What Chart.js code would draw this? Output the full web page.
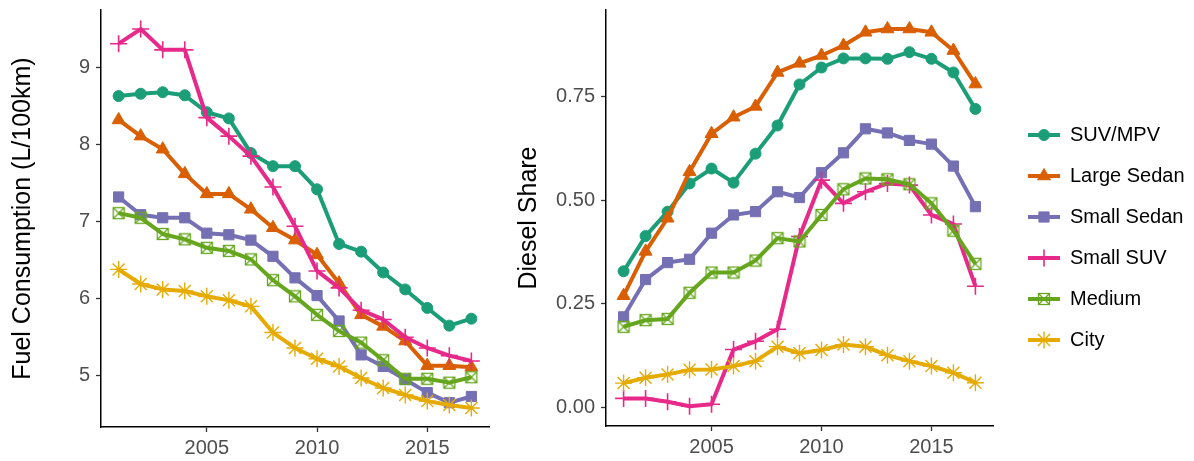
<!DOCTYPE html>
<html>
<head>
<meta charset="utf-8">
<script src="https://cdn.jsdelivr.net/npm/chart.js@4/dist/chart.umd.min.js"></script>
<style>
  html, body { margin: 0; padding: 0; background: #ffffff; }
  #wrap { position: relative; width: 1194px; height: 461px; overflow: hidden; }
  #fuel { position: absolute; left: 0; top: 0; }
  #diesel { position: absolute; left: 500px; top: 0; }
</style>
</head>
<body>
<div id="wrap">
  <canvas id="fuel" width="500" height="461"></canvas>
  <canvas id="diesel" width="694" height="461"></canvas>
</div>
<script>
// ---- data ----
const years = [2001, 2002, 2003, 2004, 2005, 2006, 2007, 2008, 2009, 2010, 2011, 2012, 2013, 2014, 2015, 2016, 2017];
const categories = ['SUV/MPV', 'Large Sedan', 'Small Sedan', 'Small SUV', 'Medium', 'City'];

// Fuel consumption, L/100km
const fuelSuvMpv      = [8.63, 8.66, 8.68, 8.64, 8.42, 8.34, 7.89, 7.72, 7.72, 7.42, 6.71, 6.61, 6.34, 6.12, 5.88, 5.65, 5.74];
const fuelLargeSedan  = [8.32, 8.11, 7.94, 7.62, 7.36, 7.36, 7.16, 6.92, 6.76, 6.57, 6.20, 5.79, 5.64, 5.45, 5.13, 5.13, 5.11];
const fuelSmallSedan  = [7.32, 7.09, 7.05, 7.05, 6.85, 6.83, 6.76, 6.55, 6.27, 6.04, 5.71, 5.27, 5.12, 4.95, 4.78, 4.65, 4.73];
const fuelSmallSuv    = [9.31, 9.50, 9.23, 9.23, 8.35, 8.11, 7.85, 7.45, 6.94, 6.36, 6.14, 5.85, 5.73, 5.50, 5.36, 5.26, 5.19];
const fuelMedium      = [7.11, 7.05, 6.84, 6.77, 6.66, 6.62, 6.51, 6.24, 6.03, 5.79, 5.58, 5.43, 5.20, 4.96, 4.96, 4.91, 4.98];
const fuelCity        = [6.38, 6.19, 6.12, 6.10, 6.03, 5.98, 5.90, 5.56, 5.36, 5.22, 5.12, 4.97, 4.84, 4.75, 4.67, 4.62, 4.58];

// Diesel share of new registrations
const dieselSuvMpv     = [0.328, 0.413, 0.472, 0.540, 0.576, 0.542, 0.612, 0.680, 0.779, 0.820, 0.842, 0.842, 0.841, 0.857, 0.841, 0.808, 0.720];
const dieselLargeSedan = [0.269, 0.376, 0.456, 0.568, 0.660, 0.700, 0.726, 0.808, 0.830, 0.849, 0.873, 0.905, 0.913, 0.913, 0.905, 0.861, 0.780];
const dieselSmallSedan = [0.218, 0.308, 0.349, 0.357, 0.420, 0.464, 0.472, 0.520, 0.506, 0.566, 0.614, 0.672, 0.662, 0.644, 0.635, 0.582, 0.484];
const dieselSmallSuv   = [0.021, 0.021, 0.013, 0.002, 0.007, 0.139, 0.159, 0.188, 0.412, 0.548, 0.492, 0.520, 0.540, 0.536, 0.464, 0.442, 0.292];
const dieselMedium     = [0.194, 0.210, 0.213, 0.276, 0.325, 0.325, 0.354, 0.408, 0.400, 0.464, 0.526, 0.552, 0.550, 0.538, 0.492, 0.426, 0.346];
const dieselCity       = [0.058, 0.071, 0.079, 0.090, 0.091, 0.099, 0.111, 0.146, 0.130, 0.138, 0.151, 0.146, 0.125, 0.111, 0.099, 0.083, 0.059];

// Tick values
const yearTicks   = [2005, 2010, 2015];
const fuelTicks   = [5, 6, 7, 8, 9];
const dieselTicks = [0, 0.25, 0.5, 0.75];

// ---- styling ----
const FONT = '"Liberation Sans", Arial, Helvetica, sans-serif';
const colors = ['#1B9E77', '#D95F02', '#7570B3', '#E7298A', '#66A61E', '#E6AB02'];

// Open square with an X inside, used for the "Medium" series
function boxCrossMarker(color) {
  const c = document.createElement('canvas');
  c.width = 14; c.height = 14;
  const g = c.getContext('2d');
  g.strokeStyle = color;
  g.lineWidth = 1.3;
  g.strokeRect(1.5, 1.5, 11, 11);
  g.beginPath();
  g.moveTo(1.5, 1.5); g.lineTo(12.5, 12.5);
  g.moveTo(12.5, 1.5); g.lineTo(1.5, 12.5);
  g.stroke();
  return c;
}

const markers = [
  { pointStyle: 'circle',   radius: 5.5, borderWidth: 1 },
  { pointStyle: 'triangle', radius: 7.5, borderWidth: 1 },
  { pointStyle: 'rect',     radius: 7.2, borderWidth: 1 },
  { pointStyle: 'cross',    radius: 8.5, borderWidth: 1.6 },
  { pointStyle: boxCrossMarker(colors[4]), radius: 7, borderWidth: 1 },
  { pointStyle: 'star',     radius: 8.5, borderWidth: 1.4 }
];

function buildDatasets(seriesList) {
  return seriesList.map((vals, i) => ({
    label: categories[i],
    data: years.map((yr, k) => ({ x: yr, y: vals[k] })),
    borderColor: colors[i],
    backgroundColor: colors[i],
    borderWidth: 4,
    borderJoinStyle: 'round',
    tension: 0,
    pointStyle: markers[i].pointStyle,
    pointRadius: markers[i].radius,
    pointBorderWidth: markers[i].borderWidth,
    pointBackgroundColor: colors[i],
    pointBorderColor: colors[i],
    pointHoverRadius: markers[i].radius,
    order: categories.length - i
  }));
}

function xScale(height) {
  return {
    type: 'linear',
    min: 2000.2,
    max: 2017.8,
    afterBuildTicks: s => { s.ticks = yearTicks.map(v => ({ value: v })); },
    afterFit: s => { s.height = height; s.paddingLeft = 0; s.paddingRight = 0; },
    grid: { display: true, drawOnChartArea: false, drawTicks: true, tickLength: 5, tickColor: '#333333', tickWidth: 1.3 },
    border: { display: true, color: '#000000', width: 1.5 },
    ticks: { color: '#4D4D4D', font: { family: FONT, size: 20 }, padding: 4, maxRotation: 0, autoSkip: false,
             callback: v => String(v) }
  };
}

function yScale(width, min, max, tickVals, titleText, titlePad, fmt) {
  return {
    type: 'linear',
    min: min,
    max: max,
    afterBuildTicks: s => { s.ticks = tickVals.map(v => ({ value: v })); },
    afterFit: s => { s.width = width; s.paddingTop = 0; s.paddingBottom = 0; },
    grid: { display: true, drawOnChartArea: false, drawTicks: true, tickLength: 5, tickColor: '#333333', tickWidth: 1.3 },
    border: { display: true, color: '#000000', width: 1.5 },
    ticks: { color: '#4D4D4D', font: { family: FONT, size: 20 }, padding: 6, autoSkip: false, callback: fmt },
    title: { display: true, text: titleText, color: '#000000', font: { family: FONT, size: 25 },
             padding: { top: titlePad, bottom: 0 } }
  };
}

// Legend at the right of the diesel panel: line with marker, then the label
const sideLegend = {
  id: 'sideLegend',
  afterDraw(chart) {
    const ctx = chart.ctx;
    const x0 = 528, x1 = 560, textX = 570, y0 = 135, step = 41;
    ctx.save();
    chart.data.datasets.forEach((ds, i) => {
      const y = y0 + i * step;
      ctx.strokeStyle = ds.borderColor;
      ctx.lineWidth = 4;
      ctx.beginPath();
      ctx.moveTo(x0, y); ctx.lineTo(x1, y);
      ctx.stroke();
      ctx.fillStyle = ds.pointBackgroundColor;
      ctx.strokeStyle = ds.pointBorderColor;
      ctx.lineWidth = ds.pointBorderWidth;
      Chart.helpers.drawPoint(ctx, { pointStyle: ds.pointStyle, radius: ds.pointRadius, borderWidth: ds.pointBorderWidth, rotation: 0 }, (x0 + x1) / 2, y);
      ctx.fillStyle = '#000000';
      ctx.font = '20px ' + FONT;
      ctx.textAlign = 'left';
      ctx.textBaseline = 'middle';
      ctx.fillText(ds.label, textX, y);
    });
    ctx.restore();
  }
};

const common = {
  responsive: false,
  animation: false,
  events: [],
  plugins: { legend: { display: false }, tooltip: { enabled: false } }
};

new Chart(document.getElementById('fuel'), {
  type: 'line',
  data: { datasets: buildDatasets([fuelSuvMpv, fuelLargeSedan, fuelSmallSedan, fuelSmallSuv, fuelMedium, fuelCity]) },
  options: Object.assign({}, common, {
    layout: { padding: { top: 10, right: 11, bottom: 0, left: 0 } },
    scales: {
      x: xScale(34),
      y: yScale(101, 4.334, 9.746, fuelTicks, 'Fuel Consumption (L/100km)', 8, v => String(v))
    }
  })
});

new Chart(document.getElementById('diesel'), {
  type: 'line',
  data: { datasets: buildDatasets([dieselSuvMpv, dieselLargeSedan, dieselSmallSedan, dieselSmallSuv, dieselMedium, dieselCity]) },
  options: Object.assign({}, common, {
    layout: { padding: { top: 10, right: 201, bottom: 0, left: 0 } },
    scales: {
      x: xScale(35),
      y: yScale(106, -0.0456, 0.9586, dieselTicks, 'Diesel Share', 14, v => Number(v).toFixed(2))
    }
  }),
  plugins: [sideLegend]
});
</script>
</body>
</html>
